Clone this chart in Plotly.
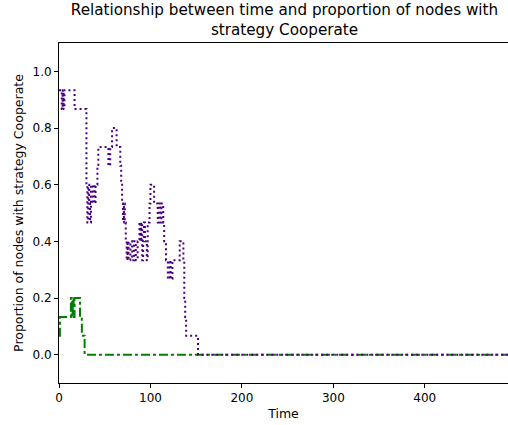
import plotly.graph_objects as go

N_NODES = 15

# purple (dotted) series: change points (time, count of cooperating nodes out of 15)
coop_a_t = [0, 3, 4, 5, 6, 17, 30, 31, 32, 33, 34, 35, 36, 37, 39, 40, 42, 43, 54, 56, 58, 63,
            67, 68, 69, 70, 71, 72, 73, 74, 75, 76, 78, 80, 82, 84, 86, 88, 89, 90, 91, 92, 93,
            94, 96, 97, 99, 100, 104, 108, 109, 111, 112, 114, 115, 117, 119, 121, 122, 124,
            132, 136, 137, 138, 139, 152, 499]
coop_a_k = [14, 13, 14, 13, 14, 13, 9, 7, 9, 8, 7, 9, 8, 9, 8, 9, 10, 11, 10, 11, 12, 11,
            10, 9, 8, 7, 8, 7, 6, 5, 6, 5, 6, 5, 6, 5, 6, 7, 6, 7, 5, 6, 7,
            6, 5, 7, 8, 9, 8, 7, 8, 7, 8, 7, 6, 5, 4, 5, 4, 5,
            6, 5, 3, 2, 1, 0, 0]

# green (dash-dot) series
coop_b_t = [0, 1, 13, 14, 15, 16, 17, 23, 25, 27, 28, 499]
coop_b_k = [1, 2, 3, 2, 3, 2, 3, 2, 1, 1, 0, 0]

x_ticks = [0, 100, 200, 300, 400]
y_ticks = [0.0, 0.2, 0.4, 0.6, 0.8, 1.0]

fig = go.Figure()
fig.add_trace(go.Scatter(
    x=coop_b_t, y=[k / N_NODES for k in coop_b_k], mode="lines", line_shape="hv",
    line=dict(color="#008000", width=2, dash="dashdot"), showlegend=False))
fig.add_trace(go.Scatter(
    x=coop_a_t, y=[k / N_NODES for k in coop_a_k], mode="lines", line_shape="hv",
    line=dict(color="#4B0082", width=2, dash="2px,3px"), showlegend=False))

axis_common = dict(showline=True, linecolor="black", linewidth=1, mirror=True,
                   ticks="outside", ticklen=4, tickcolor="black", showgrid=False,
                   zeroline=False, tickfont=dict(size=12, color="black"))

fig.update_layout(
    width=508, height=425,
    margin=dict(l=59, r=0, t=43, b=42),
    paper_bgcolor="white", plot_bgcolor="white",
    font=dict(family="DejaVu Sans", color="black"),
    title=dict(text="Relationship between time and proportion of nodes with<br>strategy Cooperate",
               x=0.56, xanchor="center", y=0.965, yanchor="top",
               font=dict(size=15.2, color="black")),
    xaxis=dict(range=[0, 491], tickvals=x_ticks, ticktext=[str(v) for v in x_ticks],
               title=dict(text="Time", font=dict(size=12.5), standoff=4), **axis_common),
    yaxis=dict(range=[-0.1, 1.1], tickvals=y_ticks, ticktext=[f"{v:.1f}" for v in y_ticks],
               title=dict(text="Proportion of nodes with strategy Cooperate", font=dict(size=12.5), standoff=6),
               **axis_common),
)

fig.write_html("out.html")
